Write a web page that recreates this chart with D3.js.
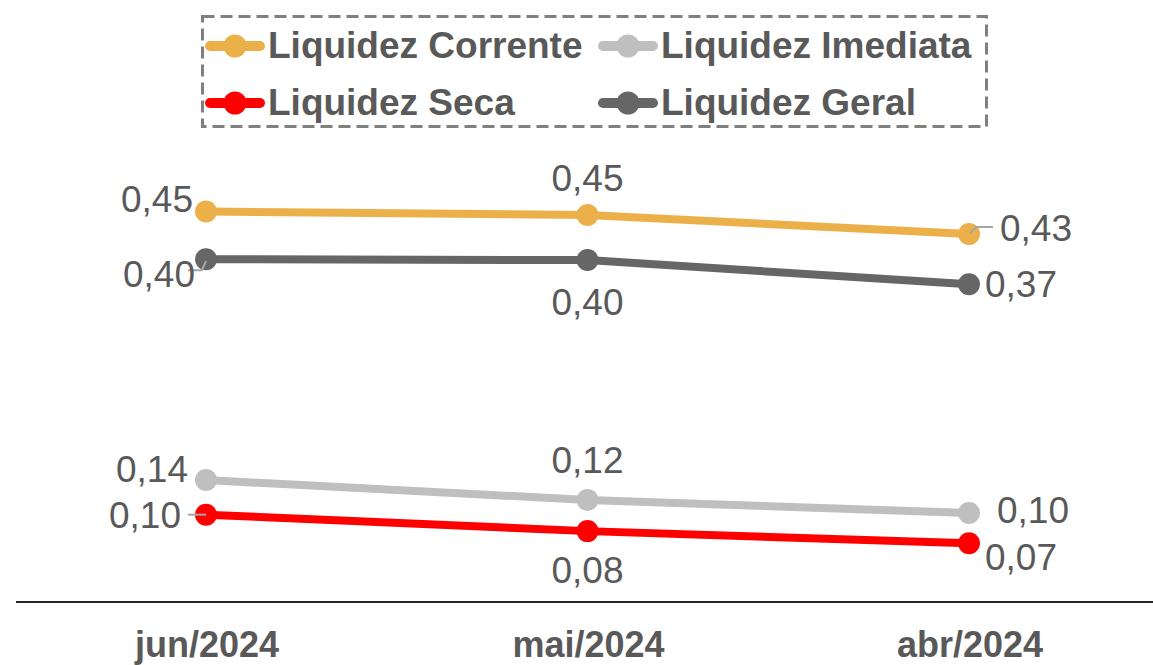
<!DOCTYPE html>
<html>
<head>
<meta charset="utf-8">
<script src="https://cdn.jsdelivr.net/npm/d3@7"></script>
<style>
  body { margin: 0; background: #fff; }
  svg { display: block; font-family: "Liberation Sans", Arial, sans-serif; }
</style>
</head>
<body>
<div id="chart"></div>
<script>
// categories and series values
const categories = ["jun/2024", "mai/2024", "abr/2024"];
const seriesNames = ["Liquidez Corrente", "Liquidez Imediata", "Liquidez Seca", "Liquidez Geral"];
const corrente = [0.452, 0.448, 0.426];
const imediata = [0.142, 0.119, 0.104];
const seca = [0.102, 0.083, 0.069];
const geral = [0.397, 0.396, 0.368];

const colors = ["#EBB04A", "#BFBFBF", "#FF0000", "#666666"];
const textColor = "#595959";

// where each data label sits relative to its point (like excel's label positions)
// [dx, dy, anchor, leader]
const labelPlace = [
  [[-13, 0, "end"], [0, -24, "middle"], [31, 7, "start", true]],
  [[-18, 2, "end"], [0, -27, "middle"], [28, 10, "start"]],
  [[-25, 13, "end", true], [0, 52, "middle"], [16, 27, "start"]],
  [[-11, 28, "end", true], [0, 55, "middle"], [16, 13, "start"]]
];

const series = [corrente, imediata, seca, geral].map((values, i) => ({
  name: seriesNames[i],
  color: colors[i],
  values
}));

const width = 1153, height = 665;

const x = d3.scalePoint().domain(categories).range([206, 969]);
const y = d3.scaleLinear().domain([0, 0.5]).range([603, 170]);

const fmt = v => v.toFixed(2).replace(".", ",");

const svg = d3.select("#chart").append("svg")
  .attr("width", width)
  .attr("height", height);

// category axis
svg.append("line")
  .attr("x1", 16).attr("x2", width)
  .attr("y1", y(0) - 1).attr("y2", y(0) - 1)
  .attr("stroke", "#262626")
  .attr("stroke-width", 2);

svg.append("g")
  .selectAll("text")
  .data(categories)
  .join("text")
  .attr("x", d => x(d) + 1)
  .attr("y", 657)
  .attr("text-anchor", "middle")
  .attr("font-size", 36)
  .attr("font-weight", "bold")
  .attr("fill", textColor)
  .text(d => d);

const line = d3.line()
  .x((d, i) => x(categories[i]))
  .y(d => y(d));

const g = svg.append("g")
  .selectAll("g")
  .data(series)
  .join("g");

g.append("path")
  .attr("fill", "none")
  .attr("stroke", d => d.color)
  .attr("stroke-width", 8)
  .attr("stroke-linecap", "round")
  .attr("stroke-linejoin", "round")
  .attr("d", d => line(d.values));

g.selectAll("circle")
  .data(d => d.values.map(v => ({ v, color: d.color })))
  .join("circle")
  .attr("cx", (d, i) => x(categories[i]))
  .attr("cy", d => y(d.v))
  .attr("r", 11)
  .attr("fill", d => d.color);

// data labels with leader lines
series.forEach((s, si) => {
  s.values.forEach((v, ci) => {
    const [dx, dy, anchor, leader] = labelPlace[si][ci];
    const px = x(categories[ci]), py = y(v);
    if (leader) {
      let pts;
      if (si === 0) pts = [[px + 1, py - 1], [px + 7, py - 7], [px + 24, py - 7]];
      else if (si === 3) pts = [[px, py + 2], [px - 4, py + 11], [px - 18, py + 11]];
      else pts = [[px, py], [px - 18, py]];
      svg.append("path")
        .attr("d", d3.line()(pts))
        .attr("fill", "none")
        .attr("stroke", "#A6A6A6")
        .attr("stroke-width", 2);
    }
    svg.append("text")
      .attr("x", px + dx)
      .attr("y", py + dy)
      .attr("text-anchor", anchor)
      .attr("font-size", 37)
      .attr("fill", textColor)
      .text(fmt(v));
  });
});

// legend
const legend = svg.append("g");
legend.append("rect")
  .attr("x", 202.5).attr("y", 16.5)
  .attr("width", 784).attr("height", 110)
  .attr("fill", "none")
  .attr("stroke", "#808080")
  .attr("stroke-width", 3)
  .attr("stroke-dasharray", "12,6");

const legendX = [205, 598];
const legendY = [46, 103];

const item = legend.selectAll("g.item")
  .data(series)
  .join("g")
  .attr("class", "item")
  .attr("transform", (d, i) => `translate(${legendX[i % 2]},${legendY[Math.floor(i / 2)]})`);

item.append("line")
  .attr("x1", 5).attr("x2", 55)
  .attr("stroke", d => d.color)
  .attr("stroke-width", 10)
  .attr("stroke-linecap", "round");

item.append("circle")
  .attr("cx", 30)
  .attr("r", 11.5)
  .attr("fill", d => d.color);

item.append("text")
  .attr("x", 63)
  .attr("y", 12)
  .attr("font-size", 37)
  .attr("font-weight", "bold")
  .attr("fill", textColor)
  .text(d => d.name);
</script>
</body>
</html>
